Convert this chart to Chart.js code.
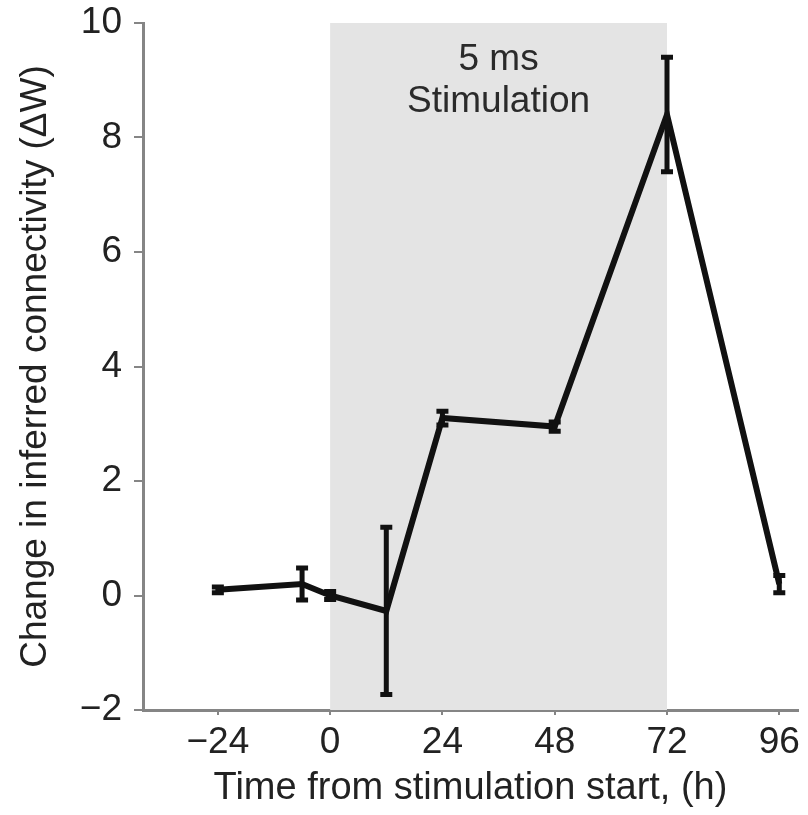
<!DOCTYPE html>
<html>
<head>
<meta charset="utf-8">
<script src="https://cdn.jsdelivr.net/npm/chart.js@4"></script>
<style>
  html, body { margin: 0; padding: 0; background: #fff; }
  #wrap { width: 808px; height: 815px; }
</style>
</head>
<body>
<div id="wrap"><canvas id="chart" width="808" height="815"></canvas></div>
<script>
// time points (h) and mean change in connectivity
const hours = [-24, -6, 0, 12, 24, 48, 72, 96];
const deltaW = [0.1, 0.2, 0.0, -0.27, 3.1, 2.95, 8.4, 0.2];
const errW = [0.05, 0.28, 0.07, 1.46, 0.12, 0.08, 1.0, 0.15];
const xTicks = [-24, 0, 24, 48, 72, 96];
const stimStart = 0;
const stimEnd = 72;
const stimLabel = ['5 ms', 'Stimulation'];

const axisGray = '#858585';
const font = 'Liberation Sans, Arial, sans-serif';

// gray band + its label, drawn under the line
const stimBand = {
    id: 'stimBand',
    beforeDatasetsDraw(chart) {
        const ctx = chart.ctx;
        const x = chart.scales.x;
        const x0 = x.getPixelForValue(stimStart);
        const x1 = x.getPixelForValue(stimEnd);
        ctx.save();
        ctx.fillStyle = '#e4e4e4';
        ctx.fillRect(x0, chart.chartArea.top, x1 - x0, chart.chartArea.bottom - chart.chartArea.top);
        ctx.fillStyle = '#2a2a2a';
        ctx.font = '37px ' + font;
        ctx.textAlign = 'center';
        ctx.textBaseline = 'middle';
        const cx = (x0 + x1) / 2;
        ctx.fillText(stimLabel[0], cx, 60);
        ctx.fillText(stimLabel[1], cx, 102);
        ctx.restore();
    }
};

// error bars with caps
const errorBars = {
    id: 'errorBars',
    afterDatasetsDraw(chart) {
        const ctx = chart.ctx;
        const x = chart.scales.x, y = chart.scales.y;
        ctx.save();
        ctx.strokeStyle = '#111';
        ctx.lineWidth = 5;
        hours.forEach((h, i) => {
            const px = x.getPixelForValue(h);
            const top = y.getPixelForValue(deltaW[i] + errW[i]);
            const bot = y.getPixelForValue(deltaW[i] - errW[i]);
            ctx.beginPath();
            ctx.moveTo(px, top);
            ctx.lineTo(px, bot);
            ctx.moveTo(px - 6, top);
            ctx.lineTo(px + 6, top);
            ctx.moveTo(px - 6, bot);
            ctx.lineTo(px + 6, bot);
            ctx.stroke();
        });
        ctx.restore();
    }
};

new Chart(document.getElementById('chart'), {
    type: 'line',
    data: {
        datasets: [{
            data: hours.map((h, i) => ({ x: h, y: deltaW[i] })),
            borderColor: '#111',
            borderWidth: 6,
            pointRadius: 0,
            tension: 0
        }]
    },
    options: {
        responsive: false,
        animation: false,
        layout: { padding: { top: 23, right: 10, left: 0, bottom: 0 } },
        plugins: { legend: { display: false }, tooltip: { enabled: false } },
        scales: {
            x: {
                type: 'linear',
                min: -40,
                max: 100,
                afterBuildTicks(scale) {
                    scale.ticks = xTicks.map(v => ({ value: v }));
                },
                afterFit(scale) { scale.height = 105; },
                border: { color: axisGray, width: 3 },
                grid: { drawOnChartArea: false, drawTicks: true, tickLength: 5, color: axisGray, lineWidth: 2 },
                ticks: {
                    color: '#222',
                    padding: 6,
                    maxRotation: 0,
                    font: { family: font, size: 37 },
                    callback: v => (v < 0 ? '\u2212' + Math.abs(v) : String(v))
                },
                title: {
                    display: true,
                    text: 'Time from stimulation start, (h)',
                    color: '#222',
                    padding: { top: 4, bottom: 4 },
                    font: { family: font, size: 38 }
                }
            },
            y: {
                min: -2,
                max: 10,
                afterFit(scale) {
                    scale.width = 143;
                    scale.paddingTop = 0;
                    scale.paddingBottom = 0;
                },
                border: { color: axisGray, width: 3 },
                grid: { drawOnChartArea: false, drawTicks: true, tickLength: 9, color: axisGray, lineWidth: 2 },
                ticks: {
                    stepSize: 2,
                    color: '#222',
                    padding: 12,
                    font: { family: font, size: 37 },
                    callback: v => (v < 0 ? '\u2212' + Math.abs(v) : String(v))
                },
                title: {
                    display: true,
                    text: 'Change in inferred connectivity (\u0394W)',
                    color: '#222',
                    padding: { top: 14, bottom: 0 },
                    font: { family: font, size: 37 }
                }
            }
        }
    },
    plugins: [stimBand, errorBars]
});
</script>
</body>
</html>
